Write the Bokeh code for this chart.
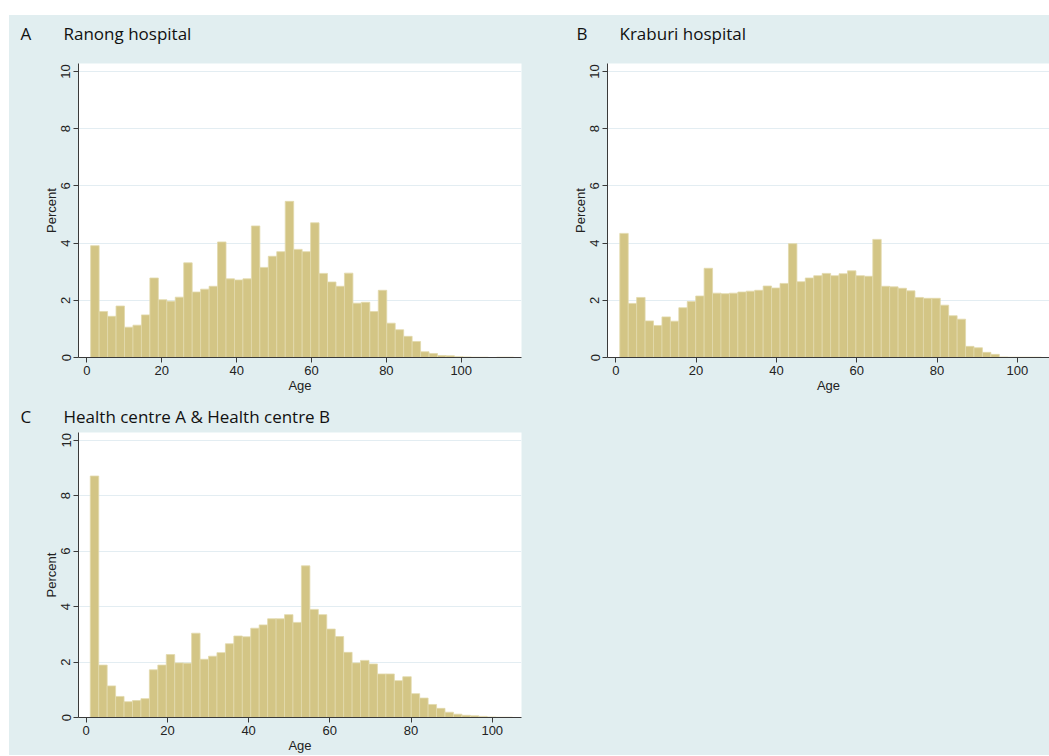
import numpy as np
from bokeh.plotting import figure
from bokeh.layouts import column, row
from bokeh.models import Spacer, Range1d, FixedTicker
from bokeh.core.properties import value
from bokeh.embed import file_html
from bokeh.resources import INLINE

# ---- data (percent per age bin, 50 bins each) ----
A_start, A_width = 1.0, 2.26
A_pct = [3.91, 1.61, 1.44, 1.80, 1.06, 1.13, 1.49, 2.78, 2.02, 1.97,
         2.11, 3.31, 2.29, 2.39, 2.49, 4.04, 2.75, 2.71, 2.75, 4.60,
         3.15, 3.54, 3.70, 5.46, 3.78, 3.70, 4.71, 2.94, 2.64, 2.49,
         2.95, 1.90, 1.93, 1.61, 2.35, 1.20, 0.97, 0.74, 0.56, 0.20,
         0.14, 0.07, 0.06, 0.03, 0.02, 0.01, 0.01, 0.00, 0.01, 0.01]

B_start, B_width = 1.0, 2.10
B_pct = [4.34, 1.89, 2.10, 1.28, 1.12, 1.42, 1.27, 1.74, 1.96, 2.15,
         3.12, 2.25, 2.23, 2.25, 2.29, 2.32, 2.35, 2.50, 2.43, 2.59,
         3.98, 2.65, 2.78, 2.86, 2.94, 2.86, 2.93, 3.03, 2.86, 2.84,
         4.13, 2.49, 2.47, 2.42, 2.33, 2.10, 2.07, 2.07, 1.83, 1.46,
         1.34, 0.39, 0.34, 0.18, 0.11, 0.02, 0.01, 0.01, 0.01, 0.01]

C_start, C_width = 1.0, 2.08
C_pct = [8.71, 1.89, 1.14, 0.76, 0.57, 0.61, 0.68, 1.72, 1.89, 2.27,
         1.97, 1.96, 3.04, 2.10, 2.21, 2.34, 2.66, 2.94, 2.91, 3.22,
         3.34, 3.56, 3.56, 3.71, 3.43, 5.47, 3.90, 3.71, 3.19, 2.92,
         2.35, 1.97, 2.06, 1.93, 1.57, 1.57, 1.33, 1.47, 0.86, 0.70,
         0.47, 0.33, 0.19, 0.12, 0.08, 0.06, 0.04, 0.02, 0.01, 0.01]

x_ticks = [0, 20, 40, 60, 80, 100]
y_ticks = [0, 2, 4, 6, 8, 10]
panel_letters = ["A", "B", "C"]
panel_titles = ["Ranong hospital", "Kraburi hospital", "Health centre A & Health centre B"]

BG = "#e1eef0"
BAR = "#d3c585"
BAR_LINE = "#e2d9ac"
AXIS = "#3a3a3a"
GRID = "#e3edf2"
TICK_FONT = "Liberation Sans"
TITLE_FONT = "Open Sans"


def title_strip(w, h, letter, title, letter_x, title_x, text_y):
    s = figure(width=w, height=h, output_backend="svg", toolbar_location=None, title=None,
               x_range=Range1d(0, w), y_range=Range1d(0, h),
               x_axis_type=None, y_axis_type=None, min_border=0)
    s.border_fill_color = BG
    s.background_fill_color = BG
    s.outline_line_color = None
    s.grid.visible = False
    s.text(x=[letter_x, title_x], y=[text_y, text_y], text=[letter, title],
           text_font=value(TITLE_FONT), text_font_size=value("17px"),
           text_color="#111111", text_baseline="middle", text_align="left")
    return s


def make_panel(pct, start, width, fig_w, fig_h, bl, br, bt, bb, xr):
    p = figure(width=fig_w, height=fig_h, output_backend="svg", toolbar_location=None, title=None,
               x_range=Range1d(*xr), y_range=Range1d(0, 10.28),
               min_border_left=bl, min_border_right=br, min_border_top=bt, min_border_bottom=bb)
    p.border_fill_color = BG
    p.background_fill_color = "white"
    p.outline_line_color = None
    edges = start + width * np.arange(len(pct) + 1)
    p.quad(left=edges[:-1], right=edges[1:], bottom=0, top=pct,
           fill_color=BAR, line_color=BAR_LINE, line_width=0.8)

    p.xgrid.visible = False
    p.ygrid.grid_line_color = GRID
    p.ygrid.grid_line_width = 1
    p.ygrid.ticker = FixedTicker(ticks=y_ticks)

    p.xaxis.ticker = FixedTicker(ticks=x_ticks)
    p.yaxis.ticker = FixedTicker(ticks=y_ticks)
    for ax in (p.xaxis[0], p.yaxis[0]):
        ax.axis_line_color = AXIS
        ax.major_tick_line_color = AXIS
        ax.major_tick_out = 5
        ax.major_tick_in = 0
        ax.minor_tick_line_color = None
        ax.major_label_text_font = TICK_FONT
        ax.major_label_text_font_size = "13px"
        ax.major_label_text_color = "#222222"
        ax.axis_label_text_font = TICK_FONT
        ax.axis_label_text_font_size = "13px"
        ax.axis_label_text_font_style = "normal"
        ax.axis_label_text_color = "#222222"
        ax.major_label_standoff = 3
        ax.axis_label_standoff = 0
    p.xaxis.axis_label = "Age"
    p.yaxis.axis_label = "Percent"
    p.yaxis.major_label_orientation = "vertical"
    return p


sA = title_strip(553, 40, panel_letters[0], panel_titles[0], 11, 54, 22)
sB = title_strip(487, 40, panel_letters[1], panel_titles[1], 14, 57, 22)
sC = title_strip(1040, 32, panel_letters[2], panel_titles[2], 11, 54, 14)

pA = make_panel(A_pct, A_start, A_width, 553, 343, 69, 41, 8, 41, (-2.25, 116.1))
pB = make_panel(B_pct, B_start, B_width, 487, 343, 45, 0, 8, 41, (-2.06, 108.0))
pC = make_panel(C_pct, C_start, C_width, 1040, 325, 69, 528, 2, 34, (-1.9, 107.2))

content = column(row(sA, sB), row(pA, pB), row(sC), row(pC),
                 styles={"background-color": BG})
layout = column(Spacer(width=1049, height=15), row(Spacer(width=9, height=740), content))

open("out.html", "w").write(file_html(layout, INLINE))
